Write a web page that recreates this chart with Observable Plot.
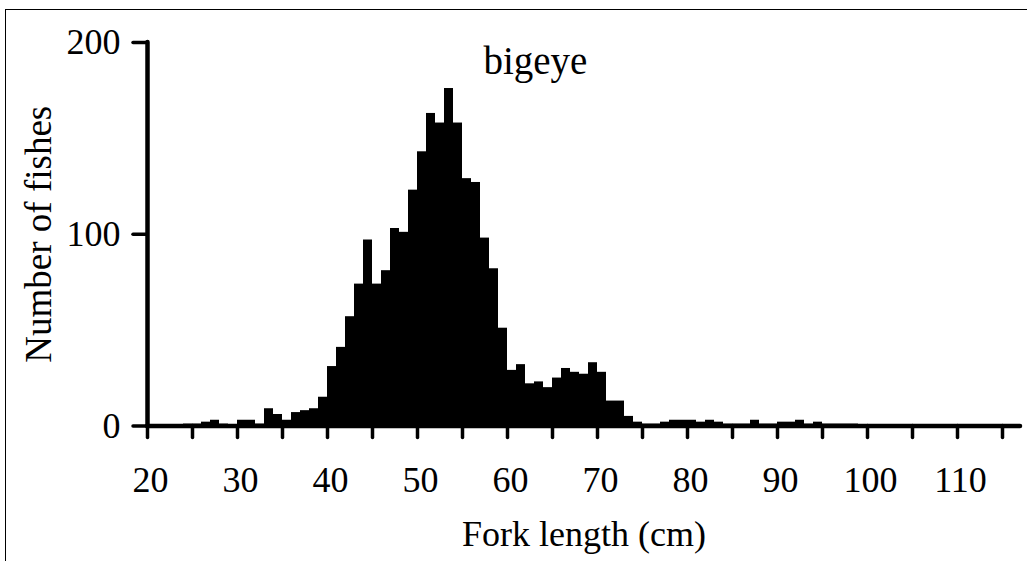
<!DOCTYPE html>
<html>
<head>
<meta charset="utf-8">
<script src="https://cdn.jsdelivr.net/npm/d3@7"></script>
<script src="https://cdn.jsdelivr.net/npm/@observablehq/plot@0.6"></script>
<style>
  html, body { margin: 0; padding: 0; background: #fff; overflow: hidden; }
  #wrap { position: relative; width: 1027px; height: 561px; }
  #frame { position: absolute; left: 5px; top: 9px; width: 1100px; height: 700px; border: 1.5px solid #000; box-sizing: border-box; pointer-events: none; }
  #chart { position: absolute; left: 0; top: 0; }
</style>
</head>
<body>
<div id="wrap"><div id="chart"></div><div id="frame"></div></div>
<script>
// Bin lower edges (cm), 1-cm bins
const binStart = d3.range(20, 117);
// Number of fishes per bin
const counts = [
  0, 0, 0, 0, 1, 1, 2, 3, 1, 0,        // 20-29
  3, 3, 1, 9, 6, 3, 7, 8, 9, 15,       // 30-39
  31, 41, 57, 74, 97, 74, 81, 103, 101, 123, // 40-49
  143, 163, 158, 176, 158, 129, 127, 98, 82, 51, // 50-59
  29, 32, 22, 23, 20, 25, 30, 28, 27, 33, // 60-69
  28, 13, 13, 5, 2, 1, 1, 2, 3, 3,     // 70-79
  3, 2, 3, 2, 1, 1, 1, 3, 1, 1,        // 80-89
  2, 2, 3, 1, 2, 1, 1, 1, 1, 0,        // 90-99
  0, 0, 0, 0, 0, 0, 0, 0, 0, 0,        // 100-109
  0, 0, 0, 0, 0, 0, 0                  // 110-116
];
const xTicks = [20, 25, 30, 35, 40, 45, 50, 55, 60, 65, 70, 75, 80, 85, 90, 95, 100, 105, 110, 115];
const xTickLabels = [20, 30, 40, 50, 60, 70, 80, 90, 100, 110];
const yTicks = [0, 100, 200];
const title = "bigeye";
const xLabel = "Fork length (cm)";
const yLabel = "Number of fishes";

const data = binStart.map((b, i) => ({lo: b, hi: b + 1, n: counts[i]}));

const font = "'Liberation Serif', 'Times New Roman', serif";

const chart = Plot.plot({
  width: 1027,
  height: 561,
  marginLeft: 147,
  marginRight: 7,
  marginTop: 42,
  marginBottom: 135.5,
  style: {fontFamily: font, fontSize: "36px", background: "transparent", color: "#000"},
  x: {domain: [20, 117], axis: null},
  y: {domain: [0, 200], axis: null},
  marks: [
    Plot.rectY(data, {x1: "lo", x2: "hi", y: "n", fill: "#000", inset: 0}),
    Plot.axisX({
      ticks: xTicks, tickSize: 12, strokeWidth: 3.5, strokeLinecap: "round",
      tickFormat: () => "", label: null
    }),
    Plot.axisX({
      ticks: xTickLabels, tickSize: 0, tickPadding: 40, tickFormat: d => String(d),
      fontSize: 36, label: null, dx: 3
    }),
    Plot.axisY({
      ticks: yTicks, tickSize: 14, tickPadding: 13, strokeWidth: 3.5, strokeLinecap: "round",
      fontSize: 36, label: null
    }),
    Plot.ruleY([0], {x1: 20, x2: 117, stroke: "#000", strokeWidth: 4.5, strokeLinecap: "round"}),
    Plot.ruleX([20], {y1: 0, y2: 200, stroke: "#000", strokeWidth: 4.5, strokeLinecap: "round"}),
    Plot.text([title], {x: 63.1, y: 200, dy: 31, lineAnchor: "bottom", fontSize: 39, fill: "#000"}),
    Plot.text([xLabel], {frameAnchor: "bottom", dy: 120, lineAnchor: "bottom", fontSize: 36, fill: "#000"}),
    Plot.text([yLabel], {frameAnchor: "left", dx: -108, rotate: -90, textAnchor: "middle", lineAnchor: "middle", fontSize: 37, fill: "#000"})
  ]
});
document.getElementById("chart").appendChild(chart);
</script>
</body>
</html>
